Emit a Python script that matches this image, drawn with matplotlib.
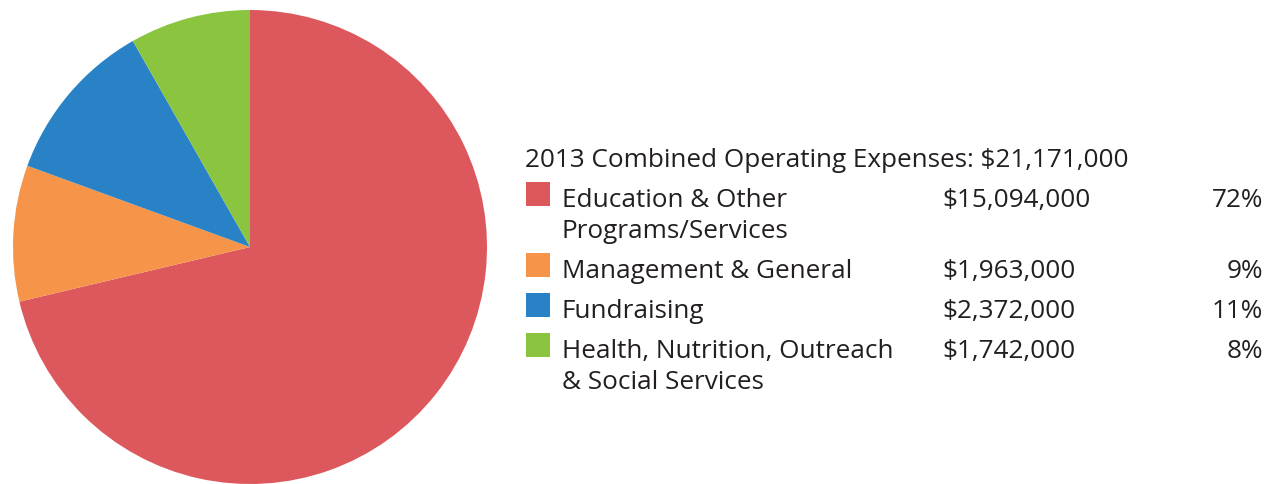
import matplotlib.pyplot as plt
from matplotlib.patches import Rectangle

W, H = 1277, 485

title = '2013 Combined Operating Expenses: $21,171,000'
labels = ['Education & Other\nPrograms/Services', 'Management & General',
          'Fundraising', 'Health, Nutrition, Outreach\n& Social Services']
amounts = [15094000, 1963000, 2372000, 1742000]
pcts = ['72%', '9%', '11%', '8%']
colors = ['#DD585D', '#F6954A', '#2882C5', '#8BC53F']

plt.rcParams['font.family'] = ['Open Sans', 'DejaVu Sans']
TXT = '#231F20'
FS = 18.8

fig = plt.figure(figsize=(W / 100, H / 100), dpi=100)

# pie: centre (250, 248) px, radius 237 px
r = 237
cx, cy = 250, 248
ax = fig.add_axes([(cx - r) / W, 1 - (cy + r) / H, 2 * r / W, 2 * r / H])
ax.pie(amounts, colors=colors, startangle=90, counterclock=False,
       radius=1, wedgeprops=dict(linewidth=0))
ax.set_xlim(-1, 1)
ax.set_ylim(-1, 1)
ax.set_aspect('equal')
ax.axis('off')


def px(x, y):
    return x / W, 1 - y / H


fig.text(*px(525, 167), title, fontsize=FS, color=TXT, va='baseline')

# baseline of the first line of each entry
rows_y = [207, 278, 318, 358]
for lab, amt, pct, col, by in zip(labels, amounts, pcts, colors, rows_y):
    x0, y0 = px(526, by)
    fig.patches.append(Rectangle((x0, y0), 24 / W, 24 / H, transform=fig.transFigure,
                                 facecolor=col, edgecolor='none'))
    for i, line in enumerate(lab.split('\n')):
        fig.text(*px(562, by + 31 * i), line, fontsize=FS, color=TXT, va='baseline')
    fig.text(*px(942, by), f'${amt:,}', fontsize=FS, color=TXT, va='baseline')
    fig.text(*px(1263, by), pct, fontsize=FS, color=TXT, va='baseline', ha='right')

fig.savefig('out.png', dpi=100)
